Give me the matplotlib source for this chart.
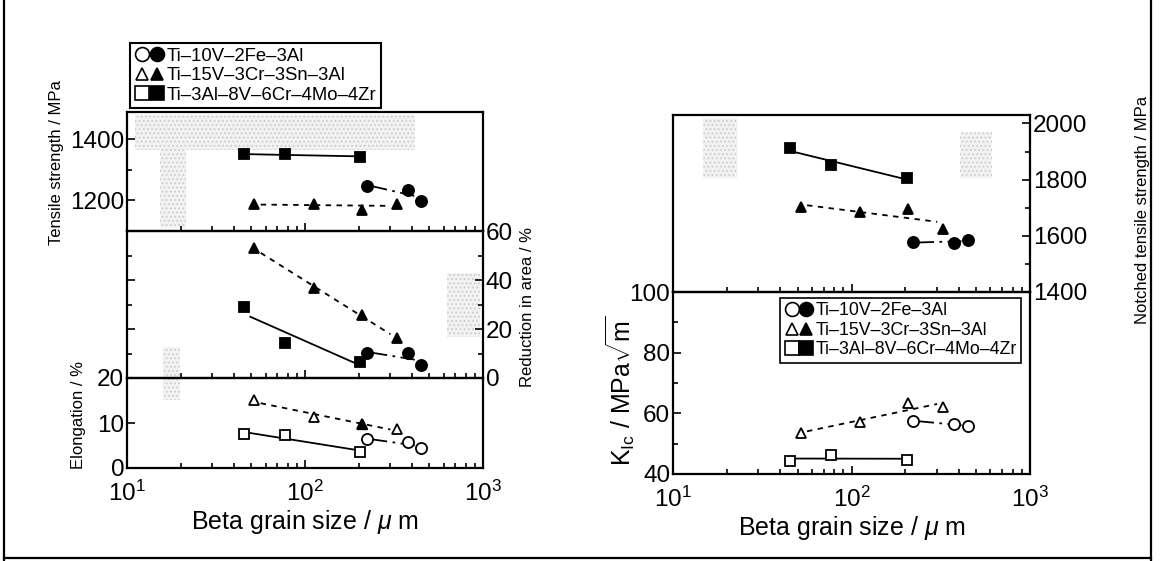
import numpy as np
import matplotlib.pyplot as plt
from matplotlib.lines import Line2D
from matplotlib.patches import Rectangle
from matplotlib.legend_handler import HandlerTuple

plt.rcParams['font.family'] = ['Liberation Sans', 'DejaVu Sans']
plt.rcParams['mathtext.fontset'] = 'custom'
plt.rcParams['mathtext.rm'] = 'Liberation Sans'
plt.rcParams['mathtext.it'] = 'Liberation Sans:italic'
plt.rcParams['hatch.linewidth'] = 0.8

# beta grain size, um
d_v10 = [222, 377, 448]          # Ti-10V-2Fe-3Al
d_v15 = [52, 112, 208, 327]      # Ti-15V-3Cr-3Sn-3Al
d_al3 = [45.5, 77, 205]          # Ti-3Al-8V-6Cr-4Mo-4Zr

alloys = ['Ti–10V–2Fe–3Al', 'Ti–15V–3Cr–3Sn–3Al', 'Ti–3Al–8V–6Cr–4Mo–4Zr']

# left: tensile strength (MPa), reduction in area (%), elongation (%)
ts_v10 = [1247, 1236, 1198]
ts_v15 = [1187, 1190, 1170, 1190]
ts_al3 = [1351, 1351, 1344]

ra_v10 = [10.1, 10.3, 5.3]
ra_v15 = [52.9, 36.9, 25.7, 16.2]
ra_al3 = [29.1, 14.2, 6.7]

el_v10 = [6.4, 5.8, 4.4]
el_v15 = [15.1, 11.3, 9.8, 8.6]
el_al3 = [7.5, 7.3, 3.6]

# right: notched tensile strength (MPa), K_Ic (MPa sqrt m)
nts_v10 = [1577, 1575, 1585]
nts_v15 = [1704, 1684, 1695, 1623]
nts_al3 = [1911, 1852, 1805]

kic_v10 = [57.5, 56.5, 55.7]
kic_v15 = [53.5, 57.0, 63.5, 62.0]
kic_al3 = [44.3, 46.3, 44.6]

W, H = 1160, 561
fig = plt.figure(figsize=(W / 100, H / 100), dpi=100)
fig.patch.set_facecolor('white')


def px_axes(x0, x1, y0, y1):
    ax = fig.add_axes([x0 / W, 1 - y1 / H, (x1 - x0) / W, (y1 - y0) / H])
    ax.set_facecolor('none')
    return ax


ls_v10 = (0, (8, 3, 1.5, 3))
ls_v15 = (0, (3, 3))
ls_al3 = '-'
mk = {'v10': ('o', 8), 'v15': ('^', 7), 'al3': ('s', 7.5)}


def trend(ax, x, y, ls):
    lx = np.log10(x)
    k, b = np.polyfit(lx, y, 1)
    xs = np.array([lx[0] + 0.035, lx[-1] - 0.035])
    ax.plot(10 ** xs, k * xs + b, color='k', lw=1.3, ls=ls, zorder=2)


def series(ax, x, y, key, ls, filled):
    m, s = mk[key]
    trend(ax, x, y, ls)
    ax.plot(x, y, ls='none', marker=m, ms=s, mec='k', mew=1.3,
            mfc='k' if filled else 'white', zorder=3)


def style(ax, ylim, bottom_labels=False):
    ax.set_xscale('log')
    ax.set_xlim(10, 1000)
    ax.set_ylim(*ylim)
    for sp in ax.spines.values():
        sp.set_linewidth(1.6)
    ax.tick_params(which='both', direction='in', width=1.2, labelsize=17.5, pad=2)
    ax.tick_params(which='major', length=6)
    ax.tick_params(which='minor', length=3.5)
    ax.tick_params(axis='x', labelbottom=bottom_labels, pad=9)


# ---- left panel
ax_ts = px_axes(127, 483, 112, 231)
ax_ra = px_axes(127, 483, 231, 378)
ax_el = px_axes(127, 483, 378, 468)

style(ax_ts, (1100, 1490))
ax_ts.set_yticks([1200, 1400])
ax_ts.set_yticks([1300], minor=True)
series(ax_ts, d_al3, ts_al3, 'al3', ls_al3, True)
series(ax_ts, d_v10, ts_v10, 'v10', ls_v10, True)
series(ax_ts, d_v15, ts_v15, 'v15', ls_v15, True)

style(ax_ra, (0, 60))
ax_ra.set_yticks([0, 20, 40, 60])
ax_ra.set_yticks([10, 30, 50], minor=True)
ax_ra.tick_params(axis='y', which='both', left=True, right=True,
                  labelleft=False, labelright=True)
series(ax_ra, d_al3, ra_al3, 'al3', ls_al3, True)
series(ax_ra, d_v10, ra_v10, 'v10', ls_v10, True)
series(ax_ra, d_v15, ra_v15, 'v15', ls_v15, True)

style(ax_el, (0, 20), bottom_labels=True)
ax_el.set_yticks([0, 10, 20])
series(ax_el, d_al3, el_al3, 'al3', ls_al3, False)
series(ax_el, d_v10, el_v10, 'v10', ls_v10, False)
series(ax_el, d_v15, el_v15, 'v15', ls_v15, False)
# the 208 um point of Ti-15V is drawn filled in the original
ax_el.plot(d_v15[2], el_v15[2], ls='none', marker='^', ms=7, mfc='k', mec='k', zorder=4)
ax_el.set_xlabel(r'Beta grain size / $\mu$ m', fontsize=18, labelpad=2)

fig.text(57 / W, 1 - 163 / H, 'Tensile strength / MPa', rotation=90,
         ha='center', va='center', fontsize=12)
fig.text(79 / W, 1 - 415 / H, 'Elongation / %', rotation=90,
         ha='center', va='center', fontsize=12)
fig.text(527 / W, 1 - 307 / H, 'Reduction in area / %', rotation=90,
         ha='center', va='center', fontsize=12)

# ---- right panel
ax_nts = px_axes(673, 1030, 115, 292)
ax_k = px_axes(673, 1030, 292, 474)

style(ax_nts, (1400, 2030))
ax_nts.set_yticks([1400, 1600, 1800, 2000])
ax_nts.set_yticks([1500, 1700, 1900], minor=True)
ax_nts.tick_params(axis='y', which='both', left=False, right=True,
                   labelleft=False, labelright=True, pad=2)
series(ax_nts, d_al3, nts_al3, 'al3', ls_al3, True)
series(ax_nts, d_v15, nts_v15, 'v15', ls_v15, True)
series(ax_nts, d_v10, nts_v10, 'v10', ls_v10, True)

style(ax_k, (40, 100), bottom_labels=True)
ax_k.set_yticks([40, 60, 80, 100])
ax_k.set_yticks([50, 70, 90], minor=True)
series(ax_k, d_al3, kic_al3, 'al3', ls_al3, False)
series(ax_k, d_v15, kic_v15, 'v15', ls_v15, False)
series(ax_k, d_v10, kic_v10, 'v10', ls_v10, False)
ax_k.set_xlabel(r'Beta grain size / $\mu$ m', fontsize=18, labelpad=2)

fig.text(620 / W, 1 - 391 / H, r'$\mathrm{K_{Ic}}$ / MPa$\sqrt{\mathrm{m}}$',
         rotation=90, ha='center', va='center', fontsize=18)
fig.text(1142 / W, 1 - 210 / H, 'Notched tensile strength / MPa', rotation=90,
         ha='center', va='center', fontsize=12)

# ---- legends
handles = []
for key in ['v10', 'v15', 'al3']:
    m, s = mk[key]
    h_open = Line2D([], [], ls='none', marker=m, ms=s + 2, mfc='white', mec='k', mew=1.2)
    h_fill = Line2D([], [], ls='none', marker=m, ms=s + 2, mfc='k', mec='k', mew=1.2)
    handles.append((h_open, h_fill))

leg_kw = dict(handler_map={tuple: HandlerTuple(ndivide=None, pad=0.0)},
              handlelength=1.6, handletextpad=0.15,
              labelspacing=0.14, borderpad=0.25, borderaxespad=0,
              fancybox=False, edgecolor='k', framealpha=1,
              bbox_transform=fig.transFigure, loc='upper left')
leg1 = fig.legend(handles, alloys, bbox_to_anchor=(130 / W, 1 - 43 / H),
                  fontsize=13.3, **leg_kw)
leg1.get_frame().set_linewidth(1.5)
leg2 = ax_k.legend(handles, alloys, bbox_to_anchor=(780 / W, 1 - 298 / H),
                   fontsize=12.8, **leg_kw)
leg2.get_frame().set_linewidth(1.2)

# ---- faint halftone patches of the scanned original
for (x0, y0, x1, y1) in [(135, 115, 415, 150), (160, 150, 186, 228),
                         (447, 273, 480, 337), (163, 347, 180, 400),
                         (703, 118, 737, 178), (960, 132, 992, 178)]:
    fig.add_artist(Rectangle((x0 / W, 1 - y1 / H), (x1 - x0) / W, (y1 - y0) / H,
                             transform=fig.transFigure, facecolor='#f2f2f2',
                             edgecolor='#cccccc', hatch='....', lw=0, zorder=-1))

# ---- outer frame
for xs, ys in [([4, 4], [0, H]), ([1151, 1151], [0, H]), ([4, 1151], [558, 558])]:
    fig.add_artist(Line2D([x / W for x in xs], [1 - y / H for y in ys],
                          transform=fig.transFigure, color='k', lw=1.6))

fig.savefig('out.png', dpi=100, facecolor='white')
